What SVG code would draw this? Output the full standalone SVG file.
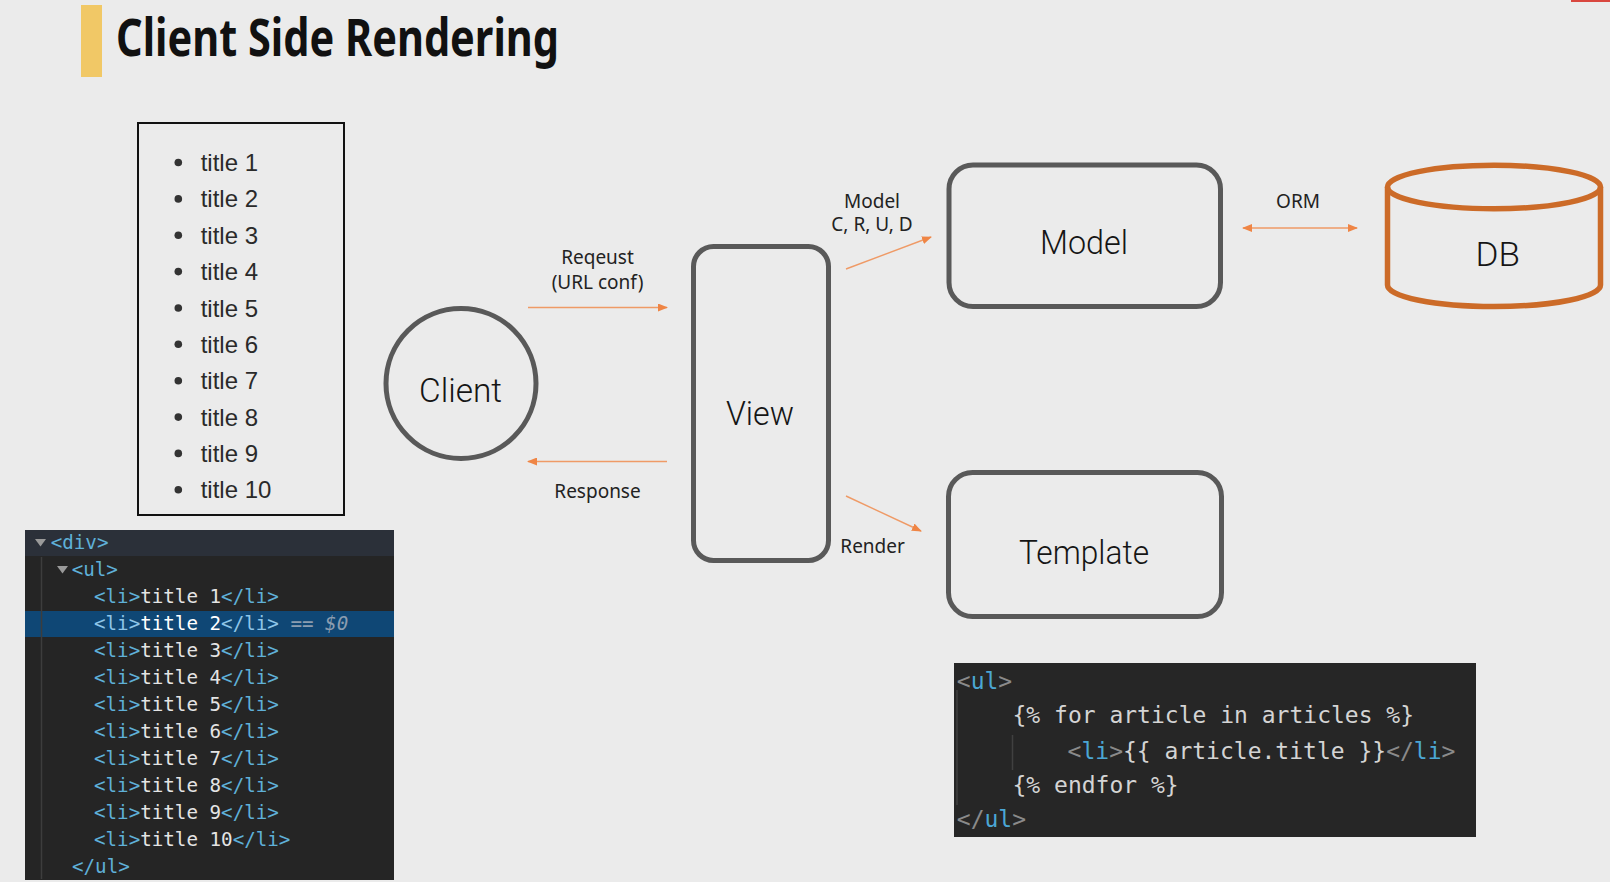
<svg xmlns="http://www.w3.org/2000/svg" width="1610" height="882" viewBox="0 0 1610 882">
<style>
.node{fill:none;stroke:#595959;stroke-width:5}
.db{fill:none;stroke:#cc6b28;stroke-width:5.5}
.nlabel{font-family:Roboto,"Liberation Sans",sans-serif;font-weight:300;font-size:34px;fill:#151515;text-anchor:middle}
.elabel{font-family:"Noto Sans","Liberation Sans",sans-serif;font-size:19px;fill:#222;text-anchor:middle}
.conn{fill:none;stroke:#ef9a66;stroke-width:1.4}
.li{font-family:"Liberation Sans",Arial,sans-serif;font-size:24px;fill:#2a2a2a}
.dev{font-family:"DejaVu Sans Mono","Liberation Mono",monospace;font-size:19.2px;fill:#e4e4e4;white-space:pre}
.tag{fill:#5fb0d8}
.code{font-family:"DejaVu Sans Mono","Liberation Mono",monospace;font-size:23px;fill:#d4d4d4;white-space:pre}
.br{fill:#8a8a8a}
.tn{fill:#4ba6d4}
</style>
<defs>
<marker id="ah" viewBox="0 0 10 8" refX="9" refY="4" markerWidth="10" markerHeight="8" markerUnits="userSpaceOnUse" orient="auto-start-reverse">
<path d="M0,0 L10,4 L0,8 z" fill="#ef8545"/>
</marker>
</defs>
<rect x="0" y="0" width="1610" height="882" fill="#ebebeb"/>
<rect x="1571" y="0" width="39" height="2" fill="#d9473f"/>

<g id="title">
<rect x="81" y="5" width="21" height="72" fill="#f1c866"/>
<text x="116" y="56" font-family="'Noto Sans','Open Sans',sans-serif" font-weight="bold" font-size="52" fill="#111" textLength="443" lengthAdjust="spacingAndGlyphs">Client Side Rendering</text>
</g>

<g id="rendered-list">
<rect x="138" y="123" width="206" height="392" fill="none" stroke="#111" stroke-width="2"/>
<g fill="#333">
<circle cx="178.3" cy="162.5" r="3.8"/>
<circle cx="178.3" cy="198.9" r="3.8"/>
<circle cx="178.3" cy="235.2" r="3.8"/>
<circle cx="178.3" cy="271.6" r="3.8"/>
<circle cx="178.3" cy="308" r="3.8"/>
<circle cx="178.3" cy="344.3" r="3.8"/>
<circle cx="178.3" cy="380.7" r="3.8"/>
<circle cx="178.3" cy="417.1" r="3.8"/>
<circle cx="178.3" cy="453.4" r="3.8"/>
<circle cx="178.3" cy="489.8" r="3.8"/>
</g>
<text class="li" x="200.7" y="171">title 1</text>
<text class="li" x="200.7" y="207.4">title 2</text>
<text class="li" x="200.7" y="243.7">title 3</text>
<text class="li" x="200.7" y="280.1">title 4</text>
<text class="li" x="200.7" y="316.5">title 5</text>
<text class="li" x="200.7" y="352.8">title 6</text>
<text class="li" x="200.7" y="389.2">title 7</text>
<text class="li" x="200.7" y="425.6">title 8</text>
<text class="li" x="200.7" y="461.9">title 9</text>
<text class="li" x="200.7" y="498.3">title 10</text>
</g>

<g id="devtools">
<rect x="25" y="530" width="369" height="350" fill="#252525"/>
<rect x="25" y="530" width="369" height="26" fill="#2b3039"/>
<rect x="25" y="611" width="369" height="26" fill="#0f4775"/>
<line x1="41.5" y1="557" x2="41.5" y2="879" stroke="#3d3d3d" stroke-width="1.5"/>
<path d="M35,539 L46,539 L40.5,546.5 z" fill="#9a9a9a"/>
<path d="M57,566 L68,566 L62.5,573.5 z" fill="#9a9a9a"/>
<text class="dev" x="50.7" y="549"><tspan class="tag">&lt;div&gt;</tspan></text>
<text class="dev" x="71.7" y="576"><tspan class="tag">&lt;ul&gt;</tspan></text>
<text class="dev" x="94" y="603"><tspan class="tag">&lt;li&gt;</tspan>title 1<tspan class="tag">&lt;/li&gt;</tspan></text>
<text class="dev" x="94" y="630" fill="#ffffff"><tspan fill="#8ec5e8">&lt;li&gt;</tspan><tspan fill="#ffffff">title 2</tspan><tspan fill="#8ec5e8">&lt;/li&gt;</tspan><tspan fill="#8b9db0"> == </tspan><tspan fill="#8b9db0" font-style="italic">$0</tspan></text>
<text class="dev" x="94" y="657"><tspan class="tag">&lt;li&gt;</tspan>title 3<tspan class="tag">&lt;/li&gt;</tspan></text>
<text class="dev" x="94" y="684"><tspan class="tag">&lt;li&gt;</tspan>title 4<tspan class="tag">&lt;/li&gt;</tspan></text>
<text class="dev" x="94" y="711"><tspan class="tag">&lt;li&gt;</tspan>title 5<tspan class="tag">&lt;/li&gt;</tspan></text>
<text class="dev" x="94" y="738"><tspan class="tag">&lt;li&gt;</tspan>title 6<tspan class="tag">&lt;/li&gt;</tspan></text>
<text class="dev" x="94" y="765"><tspan class="tag">&lt;li&gt;</tspan>title 7<tspan class="tag">&lt;/li&gt;</tspan></text>
<text class="dev" x="94" y="792"><tspan class="tag">&lt;li&gt;</tspan>title 8<tspan class="tag">&lt;/li&gt;</tspan></text>
<text class="dev" x="94" y="818.5"><tspan class="tag">&lt;li&gt;</tspan>title 9<tspan class="tag">&lt;/li&gt;</tspan></text>
<text class="dev" x="94" y="845.5"><tspan class="tag">&lt;li&gt;</tspan>title 10<tspan class="tag">&lt;/li&gt;</tspan></text>
<text class="dev" x="72" y="872.5"><tspan class="tag">&lt;/ul&gt;</tspan></text>
</g>

<g id="client">
<circle class="node" cx="461" cy="383.5" r="75"/>
<text class="nlabel" x="460.5" y="401.7" textLength="83" lengthAdjust="spacingAndGlyphs">Client</text>
</g>

<g id="view">
<rect class="node" x="693.5" y="246.5" width="135" height="314" rx="20"/>
<text class="nlabel" x="760" y="425" textLength="68" lengthAdjust="spacingAndGlyphs">View</text>
</g>

<g id="model">
<rect class="node" x="949" y="165" width="271.5" height="141.5" rx="24"/>
<text class="nlabel" x="1084" y="254" textLength="88" lengthAdjust="spacingAndGlyphs">Model</text>
</g>

<g id="template">
<rect class="node" x="948.5" y="472.5" width="273" height="144" rx="24"/>
<text class="nlabel" x="1084" y="564.3" textLength="130" lengthAdjust="spacingAndGlyphs">Template</text>
</g>

<g id="db">
<path class="db" d="M1387.5,187 L1387.5,285 A106.5,21.5 0 0 0 1600.5,285 L1600.5,187"/>
<ellipse class="db" cx="1494" cy="187" rx="106.5" ry="21.8"/>
<text class="nlabel" x="1497.7" y="266" textLength="44.5" lengthAdjust="spacingAndGlyphs">DB</text>
</g>

<g id="connectors">
<line class="conn" x1="528" y1="307.5" x2="667" y2="307.5" marker-end="url(#ah)"/>
<line class="conn" x1="667" y1="461.5" x2="528" y2="461.5" marker-end="url(#ah)"/>
<line class="conn" x1="846" y1="269" x2="931" y2="237" marker-end="url(#ah)"/>
<line class="conn" x1="846" y1="496" x2="921" y2="531" marker-end="url(#ah)"/>
<line class="conn" x1="1243" y1="228" x2="1357" y2="228" marker-start="url(#ah)" marker-end="url(#ah)"/>
<text class="elabel" x="597.5" y="263.5" font-size="18.5">Reqeust</text>
<text class="elabel" x="597.5" y="288.5" font-size="18.5">(URL conf)</text>
<text class="elabel" x="597.5" y="498">Response</text>
<text class="elabel" x="872" y="207.5">Model</text>
<text class="elabel" x="872" y="231">C, R, U, D</text>
<text class="elabel" x="872.6" y="553">Render</text>
<text class="elabel" x="1298" y="207.5">ORM</text>
</g>

<g id="template-code">
<rect x="954" y="663" width="522" height="174" fill="#262626"/>
<line x1="957" y1="690" x2="957" y2="805" stroke="#404040" stroke-width="1.5"/>
<line x1="1012.5" y1="735" x2="1012.5" y2="770" stroke="#404040" stroke-width="1.5"/>
<text class="code" x="956.8" y="689"><tspan class="br">&lt;</tspan><tspan class="tn">ul</tspan><tspan class="br">&gt;</tspan></text>
<text class="code" x="1012.5" y="723">{% for article in articles %}</text>
<text class="code" x="1067.6" y="758.5"><tspan class="br">&lt;</tspan><tspan class="tn">li</tspan><tspan class="br">&gt;</tspan>{{ article.title }}<tspan class="br">&lt;/</tspan><tspan class="tn">li</tspan><tspan class="br">&gt;</tspan></text>
<text class="code" x="1012.5" y="792.5">{% endfor %}</text>
<text class="code" x="956.8" y="826.5"><tspan class="br">&lt;/</tspan><tspan class="tn">ul</tspan><tspan class="br">&gt;</tspan></text>
</g>
</svg>
